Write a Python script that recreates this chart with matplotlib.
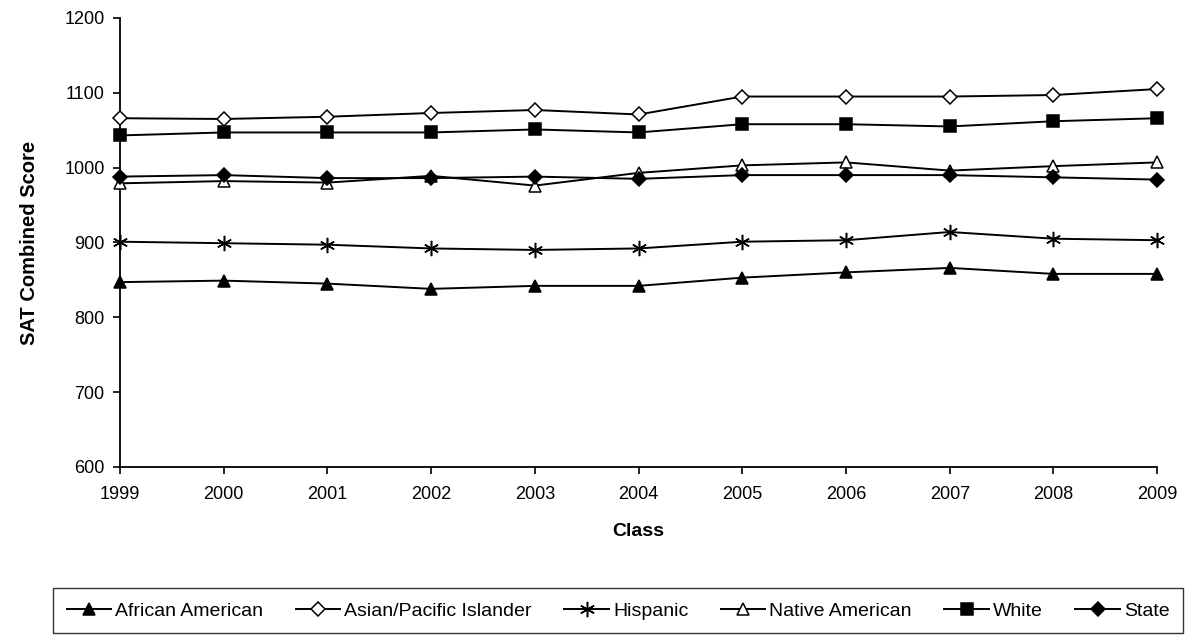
import matplotlib.pyplot as plt
import numpy as np

plt.rcParams["font.family"] = ["Liberation Sans", "DejaVu Sans"]

years = [1999, 2000, 2001, 2002, 2003, 2004, 2005, 2006, 2007, 2008, 2009]
african_american = [847, 849, 845, 838, 842, 842, 853, 860, 866, 858, 858]
asian_pacific = [1066, 1065, 1068, 1073, 1077, 1071, 1095, 1095, 1095, 1097, 1105]
hispanic = [901, 899, 897, 892, 890, 892, 901, 903, 914, 905, 903]
native_american = [979, 982, 980, 989, 976, 993, 1003, 1007, 996, 1002, 1007]
white = [1043, 1047, 1047, 1047, 1051, 1047, 1058, 1058, 1055, 1062, 1066]
state = [988, 990, 986, 986, 988, 985, 990, 990, 990, 987, 984]

series = [
    ("African American", african_american, "^", "black", 9),
    ("Asian/Pacific Islander", asian_pacific, "D", "white", 7.5),
    ("Hispanic", hispanic, (6, 2, 0), "black", 11),
    ("Native American", native_american, "^", "white", 9),
    ("White", white, "s", "black", 9),
    ("State", state, "D", "black", 7.5),
]

fig = plt.figure(figsize=(11.93, 6.41), dpi=100)
ax = fig.add_axes([0.1006, 0.2715, 0.8694, 0.7005])

for name, vals, mk, fc, ms in series:
    ax.plot(years, vals, color="black", lw=1.4, marker=mk, markersize=ms,
            markerfacecolor=fc, markeredgecolor="black", markeredgewidth=1.1,
            label=name, clip_on=False, zorder=3)

ax.set_xlim(1999, 2009)
ax.set_ylim(600, 1200)
ax.set_xticks(years)
ax.set_yticks(np.arange(600, 1201, 100))
ax.tick_params(axis="both", direction="out", length=5, width=1.2, labelsize=13, pad=6)
ax.tick_params(axis="x", pad=9)

for side in ["top", "right"]:
    ax.spines[side].set_visible(False)
for side in ["left", "bottom"]:
    ax.spines[side].set_linewidth(1.3)

ax.set_xlabel("Class", fontsize=14, fontweight="bold", labelpad=14)
ax.set_ylabel("SAT Combined Score", fontsize=14.5, fontweight="bold", labelpad=18)

leg = fig.legend(loc="center", bbox_to_anchor=(53 / 1193, 0.012, 1130 / 1193, 0.07),
                 mode="expand", ncol=6, fontsize=14, frameon=True, fancybox=False,
                 handlelength=2.3, handletextpad=0.2, borderpad=0.7,
                 borderaxespad=0.0)
leg.get_frame().set_edgecolor("black")
leg.get_frame().set_linewidth(1.0)

fig.savefig("out.png", dpi=100)
